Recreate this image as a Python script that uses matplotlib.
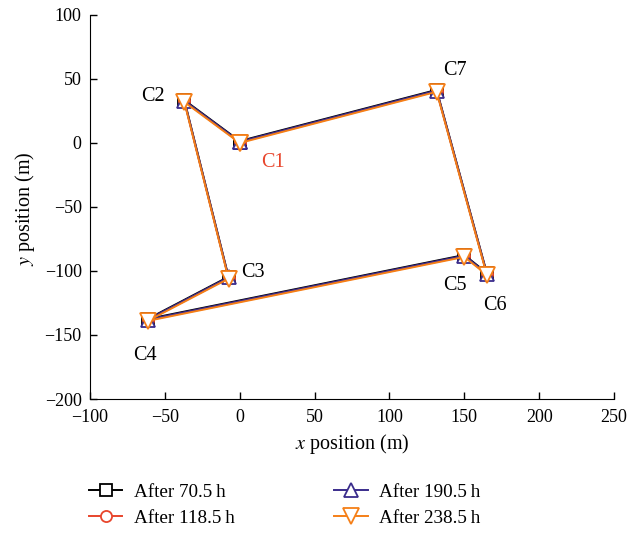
import matplotlib
matplotlib.use("Agg")
import matplotlib.pyplot as plt

plt.rcParams['font.family'] = ['Liberation Serif', 'DejaVu Serif']
plt.rcParams['mathtext.fontset'] = 'stix'

labels = ["C1", "C2", "C3", "C4", "C5", "C6", "C7"]
series_names = ["After 70.5\u2009h", "After 118.5\u2009h", "After 190.5\u2009h", "After 238.5\u2009h"]

x_70 = [0.0, -37.0, -7.5, -61.5, 150.0, 165.0, 131.5]
y_70 = [1.5, 33.5, -104.5, -137.5, -87.5, -101.5, 41.5]
x_118 = [0.0, -37.0, -7.5, -61.5, 150.0, 165.0, 131.5]
y_118 = [0.5, 32.5, -105.5, -138.5, -88.5, -102.5, 40.5]
x_190 = [0.0, -37.0, -7.5, -61.5, 150.0, 165.0, 131.5]
y_190 = [1.0, 33.0, -105.0, -138.0, -88.0, -102.0, 41.0]
x_238 = [0.0, -37.0, -7.5, -61.5, 150.0, 165.0, 131.5]
y_238 = [0.0, 32.0, -106.0, -139.0, -89.0, -103.0, 40.0]

label_x = [22.5, -58.0, 9.0, -63.5, 143.5, 170.5, 143.5]
label_y = [-15.5, 36.0, -101.0, -166.0, -111.5, -127.0, 57.0]
label_colors = ["#e8452c", "black", "black", "black", "black", "black", "black"]

colors = ["black", "#e8452c", "#3a2c8c", "#f57f17"]
markers = ["s", "o", "^", "v"]
msizes = [8, 8, 10, 12]

fig = plt.figure(figsize=(6.43, 5.33), dpi=100)
ax = fig.add_axes([0.14, 0.2514, 0.815, 0.7205])

data = [(x_70, y_70), (x_118, y_118), (x_190, y_190), (x_238, y_238)]
for (xs, ys), c, m, ms, name in zip(data, colors, markers, msizes, series_names):
    xx = list(xs) + [xs[0]]
    yy = list(ys) + [ys[0]]
    ax.plot(xx, yy, color=c, lw=1.4, marker=m, ms=ms, mfc='white',
            mec=c, mew=1.3, label=name)

for t, lx, ly, lc in zip(labels, label_x, label_y, label_colors):
    ax.text(lx, ly, t, color=lc, fontsize=14.5, ha='center', va='center')

ax.set_xlim(-100, 250)
ax.set_ylim(-200, 100)
ax.set_xticks(range(-100, 251, 50))
ax.set_yticks(range(-200, 101, 50))
ax.set_xticklabels([str(v).replace('-', '\u2212') for v in range(-100, 251, 50)])
ax.set_yticklabels([str(v).replace('-', '\u2212') for v in range(-200, 101, 50)])
ax.tick_params(direction='in', labelsize=13, length=5, width=1)
ax.tick_params(axis='x', pad=7.5)
ax.tick_params(axis='y', pad=6)
ax.spines['top'].set_visible(False)
ax.spines['right'].set_visible(False)
ax.set_xlabel(r'$x$ position (m)', fontsize=14.5, va='center')
ax.set_ylabel(r'$y$ position (m)', fontsize=14.5, va='center')
ax.xaxis.set_label_coords(0.5, -0.118)
ax.yaxis.set_label_coords(-0.124, 0.495)

handles, labs = ax.get_legend_handles_labels()
fig.legend(handles, labs, loc='lower left', bbox_to_anchor=(0.138, 0.012), ncol=2,
           frameon=False, fontsize=13.8, columnspacing=5.2, handlelength=1.75,
           labelspacing=0.45, handletextpad=0.6, borderpad=0, borderaxespad=0)

fig.savefig("out.png", dpi=100)
